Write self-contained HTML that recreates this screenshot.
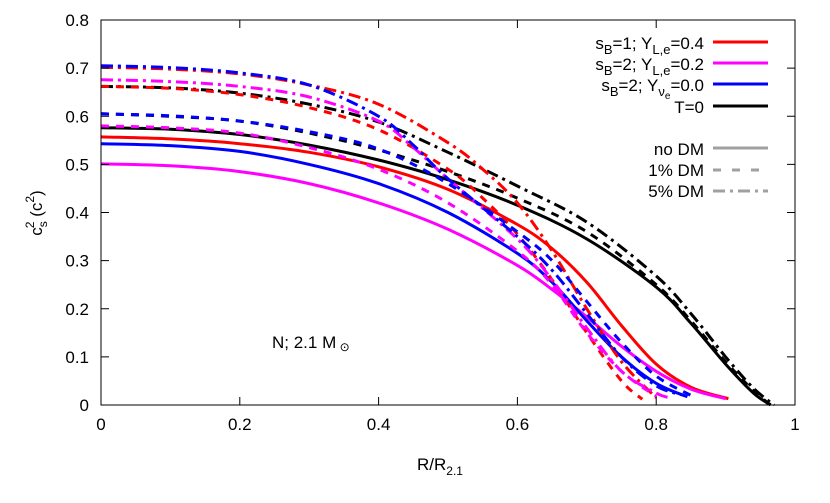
<!DOCTYPE html>
<html><head><meta charset="utf-8"><style>
body{margin:0;background:#fff}
svg{font-family:"Liberation Sans",sans-serif;}
</style></head><body>
<svg id="chart" width="830" height="498" viewBox="0 0 830 498" xmlns="http://www.w3.org/2000/svg">
<g id="marks"></g>
<g id="axes"></g>
<text transform="translate(42,213) rotate(-90)" text-anchor="middle" font-size="17">c<tspan dy="5" font-size="12">s</tspan><tspan dx="-7" dy="-13" font-size="12">2</tspan><tspan dy="8"> (c</tspan><tspan dy="-8" font-size="12">2</tspan><tspan dy="8">)</tspan></text>
<text x="440" y="470" text-anchor="middle" font-size="17">R/R<tspan dy="5" font-size="12">2.1</tspan></text>
<text x="272" y="348" font-size="17">N; 2.1 M<tspan dy="3" font-size="12"> ⊙</tspan></text>
<g id="legend" font-size="17" text-anchor="end">
<text x="704" y="49">s<tspan dy="5" font-size="13">B</tspan><tspan dy="-5">=1; Y</tspan><tspan dy="5" font-size="13">L,e</tspan><tspan dy="-5">=0.4</tspan></text>
<text x="704" y="70">s<tspan dy="5" font-size="13">B</tspan><tspan dy="-5">=2; Y</tspan><tspan dy="5" font-size="13">L,e</tspan><tspan dy="-5">=0.2</tspan></text>
<text x="704" y="91">s<tspan dy="5" font-size="13">B</tspan><tspan dy="-5">=2; Y</tspan><tspan dy="5" font-size="13">ν</tspan><tspan dy="3" font-size="10">e</tspan><tspan dy="-8">=0.0</tspan></text>
<text x="704" y="113">T=0</text>
<text x="704" y="155">no DM</text>
<text x="704" y="176">1% DM</text>
<text x="704" y="197">5% DM</text>
<g stroke-width="3">
<line x1="713" x2="768" y1="42" y2="42" stroke="#ff0000"/>
<line x1="713" x2="768" y1="63" y2="63" stroke="#ff00ff"/>
<line x1="713" x2="768" y1="84" y2="84" stroke="#0000ff"/>
<line x1="713" x2="768" y1="106" y2="106" stroke="#000"/>
<line x1="713" x2="768" y1="148" y2="148" stroke="#a0a0a0"/>
<line x1="713" x2="768" y1="170" y2="170" stroke="#a0a0a0" stroke-dasharray="8,11"/>
<line x1="713" x2="768" y1="191" y2="191" stroke="#a0a0a0" stroke-dasharray="12,5,3,5"/>
</g></g>
</svg>
<script>
const xTicks=[0,0.2,0.4,0.6,0.8,1];
const xTickLabels=["0","0.2","0.4","0.6","0.8","1"];
const yTicks=[0,0.1,0.2,0.3,0.4,0.5,0.6,0.7,0.8];
const yTickLabels=["0","0.1","0.2","0.3","0.4","0.5","0.6","0.7","0.8"];
const redSolid=[[0,.557],[.1,.553],[.2,.543],[.3,.525],[.4,.495],[.5,.448],[.6,.375],[.65,.325],[.7,.255],[.75,.165],[.8,.085],[.85,.037],[.904,.013]];
const magentaSolid=[[0,.501],[.1,.497],[.2,.485],[.3,.46],[.4,.42],[.5,.365],[.6,.29],[.65,.24],[.7,.183],[.75,.122],[.8,.07],[.85,.033],[.9,.013]];
const blueSolid=[[0,.543],[.1,.539],[.2,.527],[.3,.5],[.4,.46],[.5,.4],[.6,.315],[.65,.255],[.7,.175],[.75,.1],[.8,.045],[.845,.017]];
const blackSolid=[[0,.576],[.1,.573],[.2,.562],[.3,.54],[.4,.509],[.5,.468],[.6,.415],[.7,.345],[.8,.245],[.85,.17],[.9,.085],[.94,.025],[.965,0]];
const blackDashed=[[0,.605],[.1,.6],[.2,.59],[.3,.565],[.4,.53],[.5,.485],[.6,.43],[.7,.36],[.8,.25],[.85,.175],[.9,.09],[.94,.03],[.965,0]];
const blackDashDot=[[0,.662],[.1,.659],[.2,.648],[.3,.625],[.4,.588],[.5,.525],[.6,.455],[.7,.38],[.8,.268],[.85,.19],[.9,.1],[.94,.035],[.97,0]];
const redDashed=[[0,.662],[.1,.658],[.2,.645],[.3,.618],[.4,.572],[.5,.49],[.55,.43],[.6,.355],[.65,.26],[.7,.15],[.75,.05],[.78,.012]];
const redDashDot=[[0,.702],[.1,.698],[.2,.688],[.3,.665],[.4,.625],[.5,.545],[.55,.49],[.6,.42],[.65,.32],[.7,.2],[.75,.09],[.8,.015]];
const magentaDashed=[[0,.58],[.1,.576],[.2,.565],[.3,.535],[.4,.49],[.5,.42],[.6,.32],[.65,.25],[.7,.15],[.75,.07],[.8,.018]];
const magentaDashDot=[[0,.676],[.1,.672],[.2,.662],[.3,.64],[.4,.59],[.45,.535],[.5,.47],[.6,.345],[.65,.26],[.7,.16],[.75,.07],[.8,.025],[.82,.015]];
const blueDashed=[[0,.605],[.1,.601],[.2,.59],[.3,.568],[.4,.532],[.5,.46],[.6,.36],[.65,.3],[.7,.215],[.75,.13],[.8,.06],[.85,.02]];
const blueDashDot=[[0,.705],[.1,.701],[.2,.69],[.3,.665],[.4,.6],[.45,.54],[.5,.47],[.6,.35],[.65,.28],[.7,.19],[.75,.1],[.8,.04],[.84,.02]];

const X0=101,X1=795,Y0=405,Y1=20;
function sx(v){return X0+(X1-X0)*v;}
function sy(v){return Y0-(Y0-Y1)*v/0.8;}
const NS="http://www.w3.org/2000/svg";
function pathFor(pts){
  const p=pts.map(d=>[sx(d[0]),sy(d[1])]);
  let s="M"+p[0][0].toFixed(1)+","+p[0][1].toFixed(1);
  for(let i=0;i<p.length-1;i++){
    const a=p[Math.max(i-1,0)],b=p[i],c=p[i+1],d=p[Math.min(i+2,p.length-1)];
    const c1=[b[0]+(c[0]-a[0])/6,b[1]+(c[1]-a[1])/6],c2=[c[0]-(d[0]-b[0])/6,c[1]-(d[1]-b[1])/6];
    s+="C"+c1[0].toFixed(1)+","+c1[1].toFixed(1)+" "+c2[0].toFixed(1)+","+c2[1].toFixed(1)+" "+c[0].toFixed(1)+","+c[1].toFixed(1);
  }
  return s;
}
const marks=document.getElementById('marks');
const series=[
 [blackSolid,"#000","","black-solid"],[blackDashed,"#000","8,7","black-dashed"],[blackDashDot,"#000","12,5,3,5","black-dashdot"],
 [redSolid,"#ff0000","","red-solid"],[magentaSolid,"#ff00ff","","magenta-solid"],[blueSolid,"#0000ff","","blue-solid"],
 [redDashed,"#ff0000","8,7","red-dashed"],[redDashDot,"#ff0000","12,5,3,5","red-dashdot"],
 [magentaDashed,"#ff00ff","8,7","magenta-dashed"],[magentaDashDot,"#ff00ff","12,5,3,5","magenta-dashdot"],
 [blueDashed,"#0000ff","8,7","blue-dashed"],[blueDashDot,"#0000ff","12,5,3,5","blue-dashdot"]];
series.forEach(s=>{
  const el=document.createElementNS(NS,'path');
  el.setAttribute('d',pathFor(s[0]));
  el.setAttribute('fill','none');el.setAttribute('stroke',s[1]);el.setAttribute('stroke-width','3');
  if(s[2])el.setAttribute('stroke-dasharray',s[2]);
  
  
  marks.appendChild(el);
});
const axes=document.getElementById('axes');
function add(tag,attrs,text){const e=document.createElementNS(NS,tag);for(const k in attrs)e.setAttribute(k,attrs[k]);if(text!==undefined)e.textContent=text;axes.appendChild(e);return e;}
const frame=add('rect',{x:X0,y:Y1,width:X1-X0,height:Y0-Y1,fill:'none',stroke:'#000','stroke-width':1});


xTicks.forEach((v,i)=>{
  const x=sx(v);
  add('line',{x1:x,x2:x,y1:Y0,y2:Y0-8,stroke:'#000'});
  add('line',{x1:x,x2:x,y1:Y1,y2:Y1+8,stroke:'#000'});
  const t=add('text',{x:x,y:Y0+25,'text-anchor':'middle','font-size':17},xTickLabels[i]);
  
  
});
yTicks.forEach((v,i)=>{
  const y=sy(v);
  add('line',{x1:X0,x2:X0+8,y1:y,y2:y,stroke:'#000'});
  add('line',{x1:X1,x2:X1-8,y1:y,y2:y,stroke:'#000'});
  const t=add('text',{x:X0-12,y:y+6,'text-anchor':'end','font-size':17},yTickLabels[i]);
  
  
});
</script>
</body></html>
